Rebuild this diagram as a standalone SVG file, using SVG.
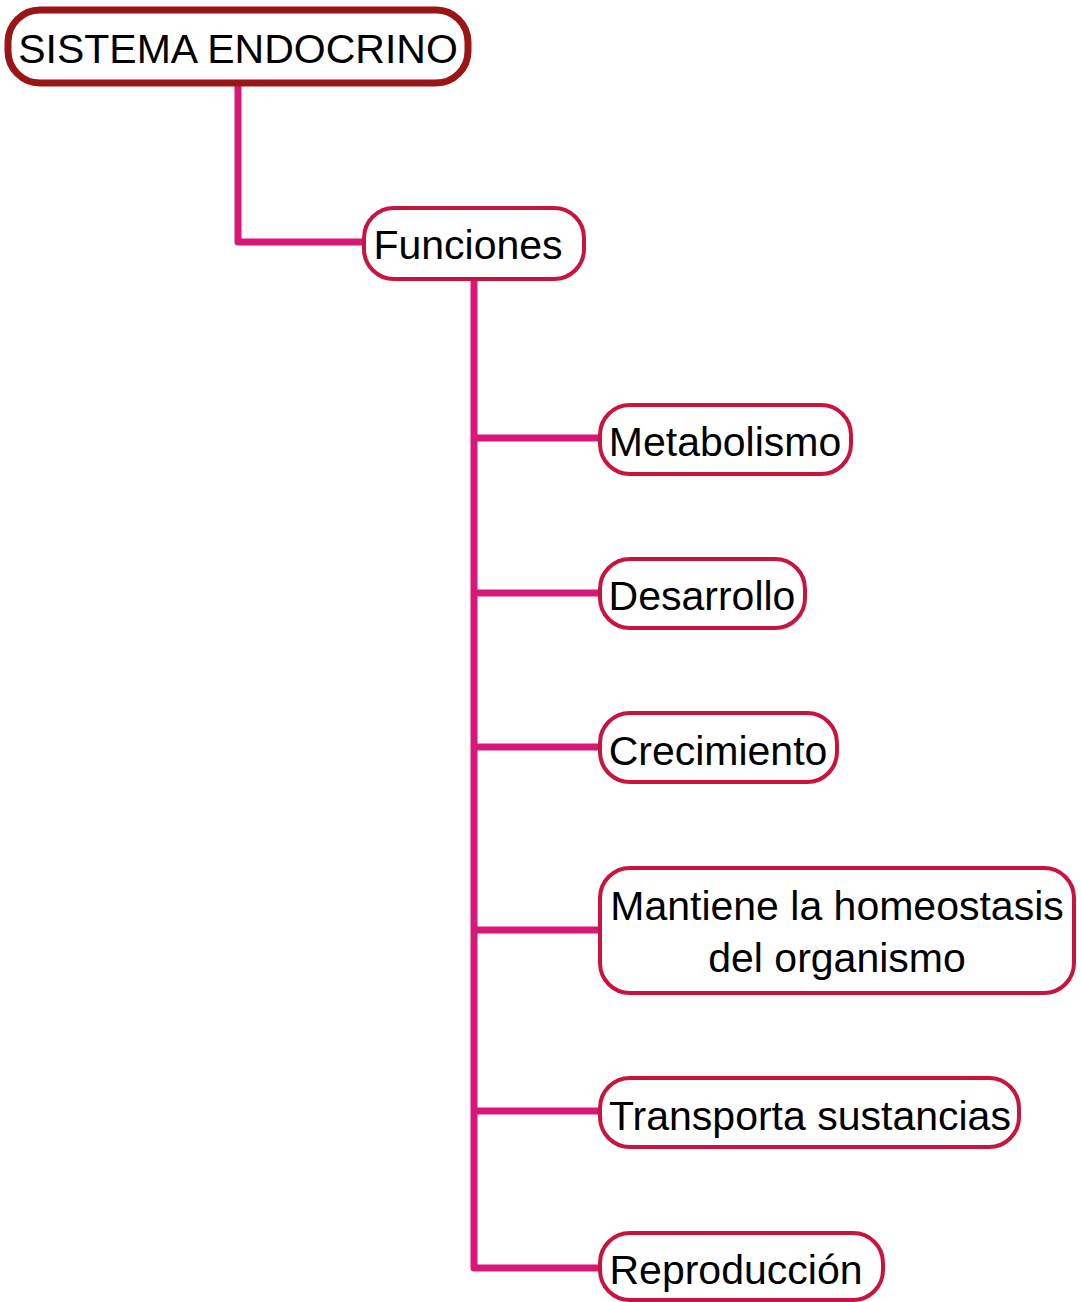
<svg xmlns="http://www.w3.org/2000/svg" width="1081" height="1302" viewBox="0 0 1081 1302">
<style>
.t{font-family:"Liberation Sans",Arial,sans-serif;font-size:41px;fill:#000;text-anchor:middle}
.n{fill:#fff;stroke:#c8143f;stroke-width:4}
.c{fill:none;stroke:#d81878;stroke-width:7;stroke-linejoin:round}
</style>
<rect width="1081" height="1302" fill="#fff"/>
<g id="connectors">
<path class="c" d="M238,84 V242 H364"/>
<path class="c" d="M474,280 V1268 H600"/>
<path class="c" d="M474,438 H600"/>
<path class="c" d="M474,593 H600"/>
<path class="c" d="M474,747 H600"/>
<path class="c" d="M474,930 H600"/>
<path class="c" d="M474,1111 H600"/>
</g>
<g id="root">
<rect x="8" y="10" width="460" height="73" rx="32" fill="#fff" stroke="#9a1616" stroke-width="7"/>
<text class="t" x="238" y="63">SISTEMA ENDOCRINO</text>
</g>
<g id="funciones">
<rect class="n" x="364" y="208" width="220" height="71" rx="30"/>
<text class="t" x="468" y="259">Funciones</text>
</g>
<g id="metabolismo">
<rect class="n" x="600" y="405" width="251" height="69" rx="30"/>
<text class="t" x="725" y="456">Metabolismo</text>
</g>
<g id="desarrollo">
<rect class="n" x="600" y="559" width="205" height="69" rx="30"/>
<text class="t" x="702" y="610">Desarrollo</text>
</g>
<g id="crecimiento">
<rect class="n" x="600" y="713" width="237" height="69" rx="30"/>
<text class="t" x="718" y="765">Crecimiento</text>
</g>
<g id="homeostasis">
<rect class="n" x="600" y="868" width="474" height="125" rx="30"/>
<text class="t" x="837" y="920">Mantiene la homeostasis</text>
<text class="t" x="837" y="972">del organismo</text>
</g>
<g id="transporta">
<rect class="n" x="600" y="1078" width="419" height="69" rx="30"/>
<text class="t" x="810" y="1130">Transporta sustancias</text>
</g>
<g id="reproduccion">
<rect class="n" x="600" y="1233" width="283" height="67" rx="30"/>
<text class="t" x="736" y="1284">Reproducción</text>
</g>
</svg>
